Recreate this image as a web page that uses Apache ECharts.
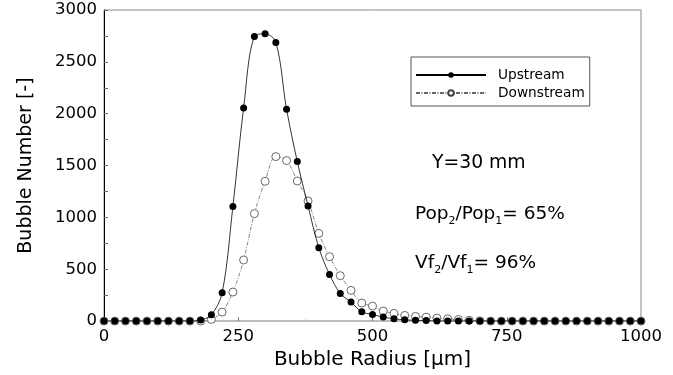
<!DOCTYPE html>
<html>
<head>
<meta charset="utf-8">
<script src="https://cdn.jsdelivr.net/npm/echarts@6/dist/echarts.min.js"></script>
<style>
html,body{margin:0;padding:0;background:#fff;}
#chart{width:673px;height:375px;}
</style>
</head>
<body>
<div id="chart"></div>
<script>
// bubble radius, um (every 20)
var radius=[];
for(var r=0;r<=1000;r+=20){radius.push(r);}

var upstream=[0,0,0,0,0,0,0,0,0,10,
    61,273,1105,2055,2745,2770,2687,2043,1538,1110,
    708,450,267,183,90,64,39,22,12,8,
    5,0,0,0,0,0,0,0,0,0,
    0,0,0,0,0,0,0,0,0,0,0];
var downstream=[0,0,0,0,0,0,0,0,0,0,
    16,87,280,589,1036,1348,1586,1548,1351,1158,
    846,621,438,296,174,145,97,74,55,45,
    38,29,22,16,8,3,0,0,0,0,
    0,0,0,0,0,0,0,0,0,0,0];

var yTicks=[0,500,1000,1500,2000,2500,3000];
var xTicks=[0,250,500,750,1000];

function pairs(aY){
    var aOut=[];
    for(var i=0;i<radius.length;i++){aOut.push([radius[i],aY[i]]);}
    return aOut;
}

var oChart=echarts.init(document.getElementById("chart"));
var sFont="DejaVu Sans, sans-serif";
var oRich={
    a:{fontFamily:sFont,fontSize:18.5,color:"#000",lineHeight:24,verticalAlign:"top"},
    s:{fontFamily:sFont,fontSize:11,color:"#000",lineHeight:24,verticalAlign:"top",padding:[11,0,0,0]}
};
var option={
    animation:false,
    grid:{
        left:104,
        right:32,
        top:10,
        bottom:53,
        show:true,
        borderColor:"#8a8a8a",
        borderWidth:1
    },
    legend:{
        orient:"vertical",
        left:411,
        top:57,
        padding:[10,5,5,4],
        itemGap:2,
        itemWidth:70,
        itemHeight:7,
        borderColor:"#555",
        borderWidth:1,
        backgroundColor:"#fff",
        textStyle:{fontFamily:sFont,fontSize:13.7,color:"#000",lineHeight:16,padding:[0,0,0,7]},
        data:["Upstream","Downstream"]
    },
    xAxis:{
        type:"value",
        min:xTicks[0],
        max:xTicks[xTicks.length-1],
        interval:250,
        name:"Bubble Radius [μm]",
        nameLocation:"middle",
        nameGap:28,
        nameTextStyle:{fontFamily:sFont,fontSize:20,color:"#000"},
        axisLine:{lineStyle:{color:"#bdbdbd",width:2}},
        axisTick:{inside:true,length:4,lineStyle:{color:"#777"}},
        minorTick:{show:true,splitNumber:2,length:2,lineStyle:{color:"#ccc"}},
        axisLabel:{
            fontFamily:sFont,fontSize:16.5,color:"#000",margin:7,
            formatter:function(v){return String(v);}
        },
        splitLine:{show:false}
    },
    yAxis:{
        type:"value",
        min:yTicks[0],
        max:yTicks[yTicks.length-1],
        interval:250,
        name:"Bubble Number [-]",
        nameLocation:"middle",
        nameGap:68,
        nameTextStyle:{fontFamily:sFont,fontSize:19,color:"#000"},
        axisLine:{lineStyle:{color:"#000",width:1}},
        axisTick:{inside:true,length:4,lineStyle:{color:"#666"}},
        axisLabel:{
            fontFamily:sFont,fontSize:16.5,color:"#000",margin:7,
            formatter:function(v){return yTicks.indexOf(v)>=0?String(v):"";}
        },
        splitLine:{show:false}
    },
    graphic:[
        {
            type:"text",left:432,top:154,
            style:{text:"Y=30 mm",font:"18.8px "+sFont,fill:"#000"}
        },
        {
            type:"text",left:415,top:205,
            style:{text:"{a|Pop}{s|2}{a|/Pop}{s|1}{a|= 65%}",rich:oRich}
        },
        {
            type:"text",left:415,top:254,
            style:{text:"{a|Vf}{s|2}{a|/Vf}{s|1}{a|= 96%}",rich:oRich}
        }
    ],
    series:[
        {
            name:"Downstream",
            type:"line",
            smooth:0.35,
            symbol:"circle",
            symbolSize:8,
            z:2,
            lineStyle:{color:"#666",width:0.8,type:[4,1.5,1,1.5]},
            itemStyle:{color:"#fff",borderColor:"#444",borderWidth:0.8},
            data:pairs(downstream)
        },
        {
            name:"Upstream",
            type:"line",
            smooth:0.35,
            symbol:"circle",
            symbolSize:7,
            z:3,
            lineStyle:{color:"#000",width:0.8},
            itemStyle:{color:"#000",borderColor:"#000",borderWidth:0},
            data:pairs(upstream)
        }
    ]
};
oChart.setOption(option);
</script>
</body>
</html>
